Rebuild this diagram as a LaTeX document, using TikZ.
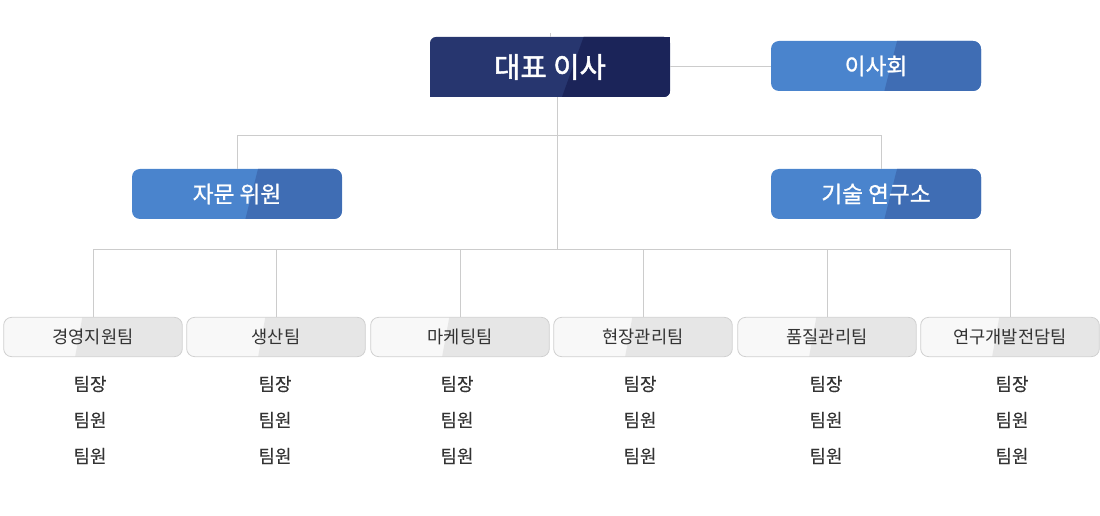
\documentclass[tikz,border=0pt]{standalone}
\usepackage{fontspec}
\setmainfont{Noto Sans CJK KR}
\newfontfamily\medfont[FakeBold=1.0]{Noto Sans CJK KR}
\newfontfamily\lightmed[FakeBold=0.2]{Noto Sans CJK KR}
\newfontfamily\titlefont[FakeBold=1.6]{Noto Sans CJK KR}
\usetikzlibrary{calc}
\definecolor{navyL}{HTML}{27366F}
\definecolor{navyR}{HTML}{1B2459}
\definecolor{blueL}{HTML}{4A84CD}
\definecolor{blueR}{HTML}{3F6DB4}
\definecolor{grayL}{HTML}{F8F8F8}
\definecolor{grayR}{HTML}{E6E6E6}
\definecolor{grayB}{HTML}{D0D0D0}
\definecolor{lineC}{HTML}{CCCCCC}
\definecolor{txt}{HTML}{333333}
\tikzset{
  split/.style n args={3}{path picture={
    \fill[#1, sharp corners] ($(path picture bounding box.north west)!#2!(path picture bounding box.north east)$)
      -- (path picture bounding box.north east) -- (path picture bounding box.south east)
      -- ($(path picture bounding box.south west)!#3!(path picture bounding box.south east)$) -- cycle;}},
  ceobox/.style={fill=navyL, split={navyR}{0.64}{0.55}, rounded corners=4.5pt,
    minimum width=180pt, minimum height=45pt, inner sep=0pt, text=white,
    font=\fontsize{21.5}{25}\titlefont},
  bluebox/.style={fill=blueL, split={blueR}{0.60}{0.54}, rounded corners=6pt,
    minimum width=157.5pt, minimum height=37.5pt, inner sep=0pt, text=white,
    font=\fontsize{17}{20}\medfont},
  teambox/.style={fill=grayL, split={grayR}{0.44}{0.40}, draw=grayB, line width=0.6pt,
    rounded corners=6pt, minimum width=134pt, minimum height=29.5pt, inner sep=0pt,
    text=txt, font=\fontsize{13.2}{16}\selectfont},
  member/.style={text=txt, font=\fontsize{13.5}{16}\lightmed, inner sep=0pt},
  conn/.style={draw=lineC, line width=0.75pt}
}
\begin{document}
\begin{tikzpicture}[x=0.75pt,y=-0.75pt]
\useasboundingbox (0,0) rectangle (1100,516);
\coordinate (topend) at (550,33);
\coordinate (j1) at (557,136);
\coordinate (j2) at (557,250);
\node[ceobox] (ceo) at (550,67) {대표 이사};
\fill[navyR] (ceo.north east) rectangle ++(-7,7);
\fill[navyL] (ceo.south west) rectangle ++(7,-7);
\node[bluebox] (board) at (876,66) {이사회};
\node[bluebox] (adv) at (237,194) {자문 위원};
\node[bluebox] (lab) at (876,194) {기술 연구소};
\node[teambox] (t1) at (93,337) {경영지원팀};
\node[teambox] (t2) at (276,337) {생산팀};
\node[teambox] (t3) at (460,337) {마케팅팀};
\node[teambox] (t4) at (643,337) {현장관리팀};
\node[teambox] (t5) at (827,337) {품질관리팀};
\node[teambox] (t6) at (1010,337) {연구개발전담팀};
\coordinate (labtop) at ([xshift=3.75pt]lab.north);
\path[conn] (topend) -- (ceo.north);
\path[conn] (ceo.east) -- (ceo.east -| board.west);
\path[conn] ([xshift=5.25pt]ceo.south) -- (j2);
\path[conn] (adv.north) -- (adv.north |- j1) -- (labtop |- j1) -- (labtop);
\path[conn] (t1.north) -- (t1.north |- j2) -- (t6.north |- j2) -- (t6.north);
\foreach \t in {t2,t3,t4,t5}{\path[conn] (\t.north) -- (\t.north |- j2);}
\foreach \t/\x in {t1/90,t2/275,t3/457,t4/640,t5/826,t6/1012}{
  \node[member] (\t a) at (\x,384) {팀장};
  \node[member] (\t b) at (\x,420) {팀원};
  \node[member] (\t c) at (\x,456) {팀원};
}
\end{tikzpicture}
\end{document}
